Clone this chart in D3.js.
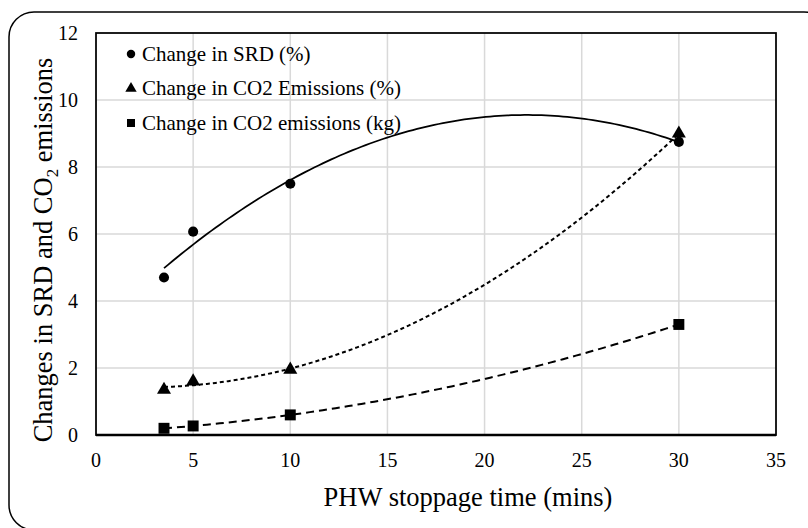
<!DOCTYPE html>
<html>
<head>
<meta charset="utf-8">
<script src="https://cdn.jsdelivr.net/npm/d3@7"></script>
<style>
  body { margin: 0; background: #fff; }
  svg text { font-family: "Liberation Serif", "Times New Roman", "DejaVu Serif", serif; }
</style>
</head>
<body>
<svg id="chart" width="808" height="528"></svg>
<script>
"use strict";
// PHW stoppage time (mins)
var stoppage = [3.5, 5, 10, 30];
var srdChange = [4.7, 6.07, 7.5, 8.75];
var co2PctChange = [1.35, 1.6, 1.95, 9.0];
var co2KgChange = [0.2, 0.27, 0.6, 3.3];
var xTicks = [0, 5, 10, 15, 20, 25, 30, 35];
var yTicks = [0, 2, 4, 6, 8, 10, 12];

var series = [
  {name: "Change in SRD (%)", values: srdChange, marker: "circle", dash: null},
  {name: "Change in CO2 Emissions (%)", values: co2PctChange, marker: "triangle", dash: "4,3"},
  {name: "Change in CO2 emissions (kg)", values: co2KgChange, marker: "square", dash: "8,5"}
];

var serif = "'Liberation Serif', 'Times New Roman', serif";
var svg = d3.select("#chart");
var margin = {top: 33, right: 32, bottom: 93, left: 96},
    width = 808 - margin.left - margin.right,
    height = 528 - margin.top - margin.bottom;

var x = d3.scaleLinear().domain([0, 35]).range([0, width]);
var y = d3.scaleLinear().domain([0, 12]).range([height, 0]);

// outer frame
svg.append("rect")
  .attr("x", 9).attr("y", 12)
  .attr("width", 820).attr("height", 518)
  .attr("rx", 25).attr("ry", 25)
  .attr("fill", "none").attr("stroke", "#000").attr("stroke-width", 1.5);

var plot = svg.append("g")
  .attr("transform", "translate(" + margin.left + "," + margin.top + ")");

// grid
plot.append("g").selectAll("line")
  .data(xTicks.slice(1, -1))
  .join("line")
  .attr("x1", d => x(d)).attr("x2", d => x(d))
  .attr("y1", 0).attr("y2", height)
  .attr("stroke", "#d9d9d9").attr("stroke-width", 1.5);
plot.append("g").selectAll("line")
  .data(yTicks.slice(1, -1))
  .join("line")
  .attr("x1", 0).attr("x2", width)
  .attr("y1", d => y(d)).attr("y2", d => y(d))
  .attr("stroke", "#d9d9d9").attr("stroke-width", 1.5);

// plot border
plot.append("rect")
  .attr("width", width).attr("height", height)
  .attr("fill", "none").attr("stroke", "#000").attr("stroke-width", 1.75);
plot.append("line")
  .attr("x1", 0).attr("x2", width)
  .attr("y1", height).attr("y2", height)
  .attr("stroke", "#000").attr("stroke-width", 2.5);

// tick labels
plot.append("g").selectAll("text")
  .data(xTicks)
  .join("text")
  .attr("x", d => x(d)).attr("y", height + 32)
  .attr("text-anchor", "middle")
  .attr("font-family", serif)
  .attr("font-size", 20)
  .text(d => d);
plot.append("g").selectAll("text")
  .data(yTicks)
  .join("text")
  .attr("x", -18).attr("y", d => y(d))
  .attr("dy", "0.35em")
  .attr("text-anchor", "end")
  .attr("font-family", serif)
  .attr("font-size", 20)
  .text(d => d);

// axis titles
svg.append("text")
  .attr("x", 468).attr("y", 506)
  .attr("text-anchor", "middle")
  .attr("font-family", serif)
  .attr("font-size", 26.5)
  .text("PHW stoppage time (mins)");

var yTitle = svg.append("text")
  .attr("transform", "translate(52,250) rotate(-90)")
  .attr("text-anchor", "middle")
  .attr("font-family", serif)
  .attr("font-size", 26.5);
yTitle.append("tspan").text("Changes in SRD and CO");
yTitle.append("tspan").attr("font-size", 17).attr("dy", 6).text("2");
yTitle.append("tspan").attr("dy", -6).text(" emissions");

// quadratic least squares fit (Excel polynomial trendline, order 2)
function polyfit2(xs, ys) {
  var s = [0, 0, 0, 0, 0], t = [0, 0, 0];
  xs.forEach(function(xi, i) {
    for (var k = 0; k < 5; k++) s[k] += Math.pow(xi, k);
    for (var k = 0; k < 3; k++) t[k] += Math.pow(xi, k) * ys[i];
  });
  var m = [[s[0], s[1], s[2], t[0]], [s[1], s[2], s[3], t[1]], [s[2], s[3], s[4], t[2]]];
  for (var c = 0; c < 3; c++) {
    for (var r = c + 1; r < 3; r++) {
      var f = m[r][c] / m[c][c];
      for (var k = c; k < 4; k++) m[r][k] -= f * m[c][k];
    }
  }
  var b = [0, 0, 0];
  for (var r = 2; r >= 0; r--) {
    var v = m[r][3];
    for (var k = r + 1; k < 3; k++) v -= m[r][k] * b[k];
    b[r] = v / m[r][r];
  }
  return b;
}

var lo = d3.min(stoppage), hi = d3.max(stoppage);
var fine = d3.range(lo, hi + 0.001, (hi - lo) / 120);

series.forEach(function(s) {
  var b = polyfit2(stoppage, s.values);
  plot.append("path")
    .datum(fine)
    .attr("fill", "none")
    .attr("stroke", "#000")
    .attr("stroke-width", s.dash ? 2 : 1.75)
    .attr("stroke-dasharray", s.dash)
    .attr("d", d3.line()
      .x(d => x(d))
      .y(d => y(b[0] + b[1] * d + b[2] * d * d)));
});

var symbols = {circle: d3.symbolCircle, triangle: d3.symbolTriangle, square: d3.symbolSquare};
var sizes = {circle: 80, triangle: 85, square: 120};

series.forEach(function(s) {
  plot.append("g").selectAll("path")
    .data(s.values.map((v, i) => ({x: stoppage[i], y: v})))
    .join("path")
    .attr("transform", d => "translate(" + x(d.x) + "," + y(d.y) + ")")
    .attr("d", d3.symbol().type(symbols[s.marker]).size(sizes[s.marker]))
    .attr("fill", "#000");
});

// legend
var legend = plot.append("g").attr("transform", "translate(35,0)")
  .selectAll("g")
  .data(series)
  .join("g")
  .attr("transform", (d, i) => "translate(0," + (21 + i * 34.5) + ")");
legend.append("path")
  .attr("d", d => d3.symbol().type(symbols[d.marker]).size(d.marker === "square" ? 64 : 56)())
  .attr("fill", "#000");
legend.append("text")
  .attr("x", 11).attr("dy", "0.33em")
  .attr("font-family", serif)
  .attr("font-size", 21)
  .text(d => d.name);
</script>
</body>
</html>
